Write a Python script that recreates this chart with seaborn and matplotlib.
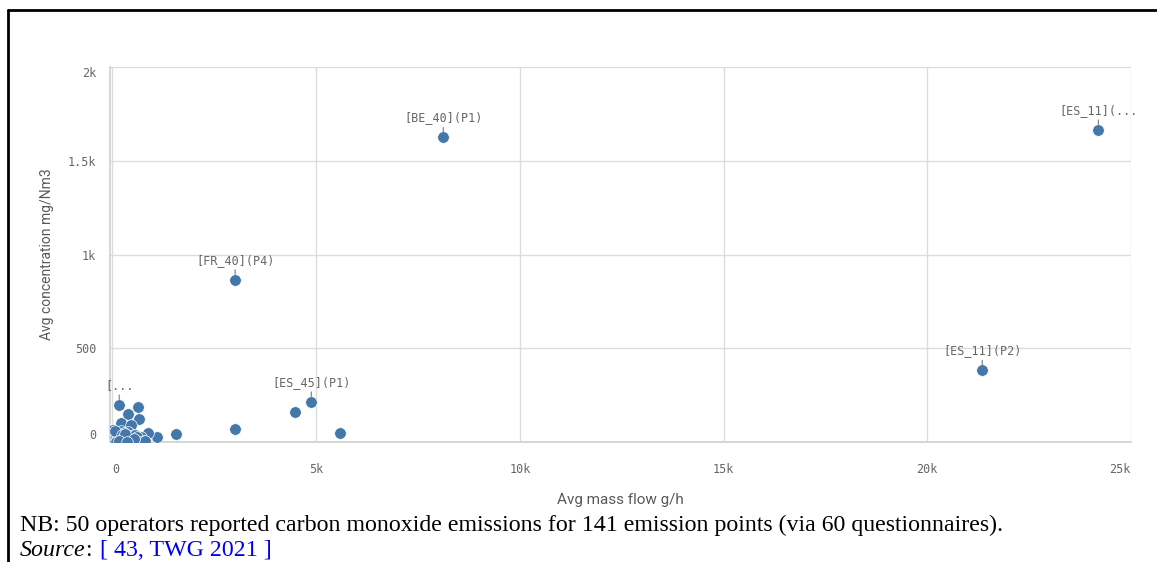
import numpy as np
import pandas as pd
import matplotlib
matplotlib.use("Agg")
import matplotlib.pyplot as plt
import seaborn as sns

# ---- data ----
mass_flow = [24200, 8120, 3010, 21350, 4880, 4480, 5590, 3010, 1560, 1100, 880,
             165, 630, 385, 655, 215, 460,
             50, 120, 200, 300, 380, 450, 520, 600, 700, 30, 100, 160, 250, 330,
             410, 480, 560, 640, 760, 20, 80, 140, 280, 350, 600, 50, 180, 420, 700, 800,
             10, 70, 230, 260, 310, 540, 90, 150, 360]
concentration = [1665, 1625, 865, 383, 214, 158, 48, 70, 45, 26, 48,
                 198, 188, 150, 124, 103, 92,
                 55, 40, 60, 30, 55, 20, 35, 10, 25, 15, 5, 25, 10, 5,
                 30, 8, 40, 5, 8, 40, 30, 12, 48, 18, 28, 0, 2, 0, 0, 3,
                 62, 58, 38, 22, 45, 15, 0, 3, 1]
labels = ["[ES_11](...", "[BE_40](P1)", "[FR_40](P4)", "[ES_11](P2)", "[ES_45](P1)"] + [""] * 6 + ["[..."] + [""] * 44
x_ticks = [0, 5000, 10000, 15000, 20000, 25000]
x_ticklabels = ["0", "5k", "10k", "15k", "20k", "25k"]
y_ticks = [0, 500, 1000, 1500, 2000]
y_ticklabels = ["0", "500", "1k", "1.5k", "2k"]

df = pd.DataFrame({"mass_flow": mass_flow, "concentration": concentration, "label": labels})

sns.set_theme(style="white")
plt.rcParams["font.family"] = ["DejaVu Sans Mono", "DejaVu Sans"]

fig = plt.figure(figsize=(11.57, 5.62), dpi=100)
ax = fig.add_axes([0.0951, 0.2135, 0.8824, 0.6673])

point_color = "#4477aa"
sns.scatterplot(data=df, x="mass_flow", y="concentration", ax=ax, color=point_color,
                s=70, edgecolor="white", linewidth=0.5, zorder=3)

ax.set_xlim(-60, 25000)
ax.set_ylim(0, 1990)
ax.set_xticks(x_ticks)
ax.set_xticklabels(x_ticklabels)
ax.set_yticks(y_ticks)
ax.set_yticklabels(y_ticklabels)

grid_c = "#dcdcdc"
ax.grid(True, color=grid_c, linewidth=1)
ax.set_axisbelow(True)
for s in ["top", "right"]:
    ax.spines[s].set_visible(False)
for s in ["left", "bottom"]:
    ax.spines[s].set_color("#cfcfcf")
    ax.spines[s].set_linewidth(1.2)
ax.tick_params(axis="both", which="both", length=6, color="#cfcfcf", labelcolor="#666666",
               labelsize=8.5, direction="out")
ax.tick_params(axis="x", pad=9)
ax.tick_params(axis="y", pad=4)
yl = ax.get_yticklabels()
yl[0].set_va("bottom")
yl[-1].set_va("top")
xl = ax.get_xticklabels()
xl[0].set_ha("left")
xl[-1].set_ha("right")

ax.set_xlabel("Avg mass flow g/h", fontsize=11, color="#595959", family="Roboto", labelpad=12)
ax.set_ylabel("Avg concentration mg/Nm3", fontsize=10, color="#595959", family="Roboto", labelpad=10)

for _, r in df.iterrows():
    if r["label"]:
        ax.annotate(r["label"], xy=(r["mass_flow"], r["concentration"]), xytext=(0, 9.5),
                    textcoords="offset points", ha="center", va="bottom", fontsize=8.5,
                    color="#666666", annotation_clip=False,
                    arrowprops=dict(arrowstyle="-", color="#777777", lw=0.8, shrinkA=0, shrinkB=4))

# footer
fs = 17.2
fig.text(20 / 1157, 1 - 525 / 562, "NB: 50 operators reported carbon monoxide emissions for 141 emission points (via 60 questionnaires).",
         family="Liberation Serif", fontsize=fs, color="black", va="center", ha="left")
t1 = fig.text(20 / 1157, 1 - 551 / 562, "Source", family="Liberation Serif", style="italic",
              fontsize=fs, color="black", va="center", ha="left")
fig.canvas.draw()
r = fig.canvas.get_renderer()
bb = t1.get_window_extent(r)
t2 = fig.text(bb.x1 / fig.bbox.width, 1 - 551 / 562, ": ", family="Liberation Serif",
              fontsize=fs, color="black", va="center", ha="left")
bb2 = t2.get_window_extent(r)
fig.text(bb2.x1 / fig.bbox.width + 0.002, 1 - 551 / 562, "[ 43, TWG 2021 ]", family="Liberation Serif",
         fontsize=fs, color="#0000ee", va="center", ha="left")

# outer border (left and top)
fig.add_artist(plt.Line2D([8 / 1157, 8 / 1157], [0, 1 - 10 / 562], color="black", lw=2, transform=fig.transFigure))
fig.add_artist(plt.Line2D([8 / 1157, 1], [1 - 10 / 562, 1 - 10 / 562], color="black", lw=2, transform=fig.transFigure))

fig.savefig("out.png", dpi=100)
